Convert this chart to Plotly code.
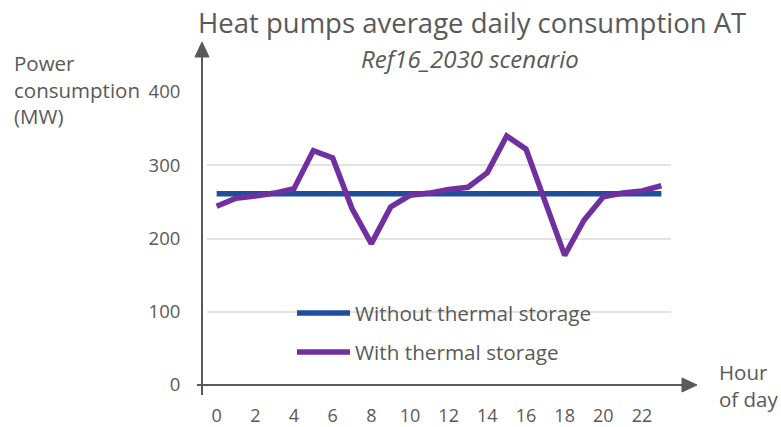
import plotly.graph_objects as go

hours = list(range(24))
without_storage = [261] * 24
with_storage = [244, 255, 258, 262, 268, 320, 310, 241, 193, 243,
                259, 262, 267, 270, 290, 340, 322, 250, 177, 225,
                257, 262, 265, 272]
x_ticks = list(range(0, 23, 2))
y_ticks = [0, 100, 200, 300, 400]

W, H = 781, 427
L, R, T, B = 207, 110, 92, 42
GREY = "#595959"
FONT = "Open Sans"


def px(x):
    return (x - L) / (W - L - R)


def py(y):
    return (H - B - y) / (H - T - B)


fig = go.Figure()
fig.add_trace(go.Scatter(x=hours, y=without_storage, mode="lines",
                         name="Without thermal storage",
                         line=dict(color="#1F4E9C", width=5.5)))
fig.add_trace(go.Scatter(x=hours, y=with_storage, mode="lines",
                         name="With thermal storage",
                         line=dict(color="#7030A0", width=5.5)))

shapes = [
    # axis lines with arrow heads
    dict(type="line", xref="paper", yref="paper", x0=px(197), x1=px(684),
         y0=py(385), y1=py(385), line=dict(color=GREY, width=2)),
    dict(type="path", xref="paper", yref="paper",
         path=f"M {px(682)} {py(378)} L {px(697)} {py(385)} L {px(682)} {py(392)} Z",
         fillcolor=GREY, line=dict(color=GREY, width=1)),
    dict(type="line", xref="paper", yref="paper", x0=px(202), x1=px(202),
         y0=py(395), y1=py(55), line=dict(color=GREY, width=2)),
    dict(type="path", xref="paper", yref="paper",
         path=f"M {px(195)} {py(57)} L {px(202)} {py(42)} L {px(209)} {py(57)} Z",
         fillcolor=GREY, line=dict(color=GREY, width=1)),
    # legend samples
    dict(type="line", xref="paper", yref="paper", x0=px(297), x1=px(350),
         y0=py(313), y1=py(313), line=dict(color="#1F4E9C", width=5.5)),
    dict(type="line", xref="paper", yref="paper", x0=px(297), x1=px(350),
         y0=py(352), y1=py(352), line=dict(color="#7030A0", width=5.5)),
]

annotations = [
    dict(text="Heat pumps average daily consumption AT", x=px(472), y=py(22),
         font=dict(size=27.5, color=GREY)),
    dict(text="<i>Ref16_2030 scenario</i>", x=px(470), y=py(58),
         font=dict(size=24, color=GREY)),
    dict(text="Power<br>consumption<br>(MW)", x=px(12), y=py(89), xanchor="left",
         align="left", font=dict(size=20.5, color=GREY)),
    dict(text="Hour<br>of day", x=px(717), y=py(385), xanchor="left",
         align="left", font=dict(size=20.5, color=GREY)),
    dict(text="Without thermal storage", x=px(353), y=py(313), xanchor="left",
         font=dict(size=20.7, color=GREY)),
    dict(text="With thermal storage", x=px(353), y=py(352), xanchor="left",
         font=dict(size=20.7, color=GREY)),
]
for a in annotations:
    a.update(xref="paper", yref="paper", showarrow=False)
    a.setdefault("xanchor", "center")
    a.setdefault("yanchor", "middle")

fig.update_layout(
    width=W, height=H,
    margin=dict(l=L, r=R, t=T, b=B, pad=0),
    plot_bgcolor="white", paper_bgcolor="white",
    font=dict(family=FONT, color=GREY, size=18),
    showlegend=False,
    shapes=shapes,
    annotations=annotations,
    xaxis=dict(range=[-0.5, 23.5], tickvals=x_ticks, showgrid=False,
               zeroline=False, showline=False, ticks="outside", ticklen=14,
               tickcolor="rgba(0,0,0,0)", automargin=False,
               tickfont=dict(size=18, color=GREY)),
    yaxis=dict(range=[0, 400], tickvals=y_ticks, showgrid=True,
               gridcolor="#E3E3E3", gridwidth=2, zeroline=False,
               showline=False, ticks="outside", ticklen=22,
               tickcolor="rgba(0,0,0,0)", automargin=False,
               tickfont=dict(size=18.5, color=GREY)),
)

fig.write_html(
    "out.html",
    config={"displayModeBar": False},
    post_script="document.body.style.margin='0';document.body.style.overflow='hidden';",
)
